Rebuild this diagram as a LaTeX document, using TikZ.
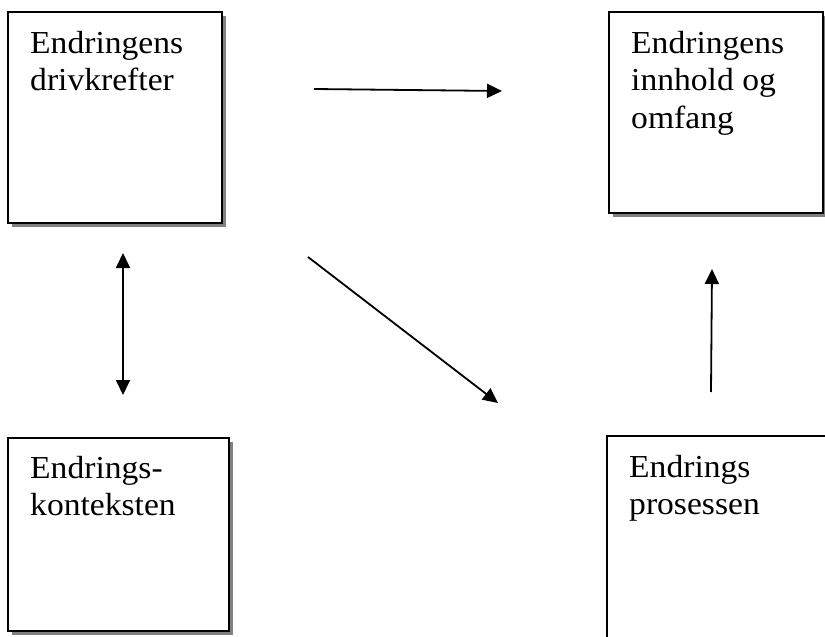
\documentclass[tikz,border=0pt]{standalone}
\usepackage{fontspec}
\setmainfont[FakeStretch=1.05]{Liberation Serif}
\usetikzlibrary{arrows.meta,shadows}
\tikzset{
  box/.style={draw=black, line width=2pt, fill=white, inner sep=0pt, outer sep=0pt,
    drop shadow={shadow xshift=4pt, shadow yshift=-4pt, fill=black!50, opacity=1}},
  lbl/.style={anchor=base west, inner sep=0pt, align=left, font=\fontsize{32}{37.5}\selectfont},
  conn/.style={line width=1.8pt, -{Triangle[length=15pt,width=14pt]}},
  dconn/.style={line width=1.8pt, {Triangle[length=15pt,width=14pt]}-{Triangle[length=15pt,width=14pt]}}
}
\begin{document}
\begin{tikzpicture}[x=1pt,y=-1pt]
\useasboundingbox (0,0) rectangle (825,637);
\clip (0,0) rectangle (825,637);
\fill[white] (0,0) rectangle (825,637);
% boxes
\node[box, minimum width=214pt, minimum height=211pt] (b1) at (115,117.5) {};
\node[box, minimum width=214pt, minimum height=201pt] (b2) at (716,112.5) {};
\node[box, minimum width=221pt, minimum height=193pt] (b3) at (118.5,534.5) {};
\node[box, minimum width=300pt, minimum height=280pt] (b4) at (757,576) {};
% labels (anchored at the baseline of their last line)
\node[lbl] (t1) at (30,90.5) {Endringens\\drivkrefter};
\node[lbl] (t2) at (631,128) {Endringens\\innhold og\\omfang};
\node[lbl] (t3) at (30,515.5) {Endrings-\\konteksten};
\node[lbl] (t4) at (629,514.5) {Endrings\\prosessen};
% connector end points
\coordinate (p1s) at (314,89);
\coordinate (p1e) at (502,91);
\coordinate (p2s) at (308,257);
\coordinate (p2e) at (498,403);
\coordinate (p3s) at (123,253);
\coordinate (p3e) at (123,395);
\coordinate (p4s) at (711,392);
\coordinate (p4e) at (712,269);
% connectors
\draw[conn] (p1s) -- (p1e);
\draw[conn] (p2s) -- (p2e);
\draw[dconn] (p3s) -- (p3e);
\draw[conn] (p4s) -- (p4e);
\end{tikzpicture}
\end{document}
